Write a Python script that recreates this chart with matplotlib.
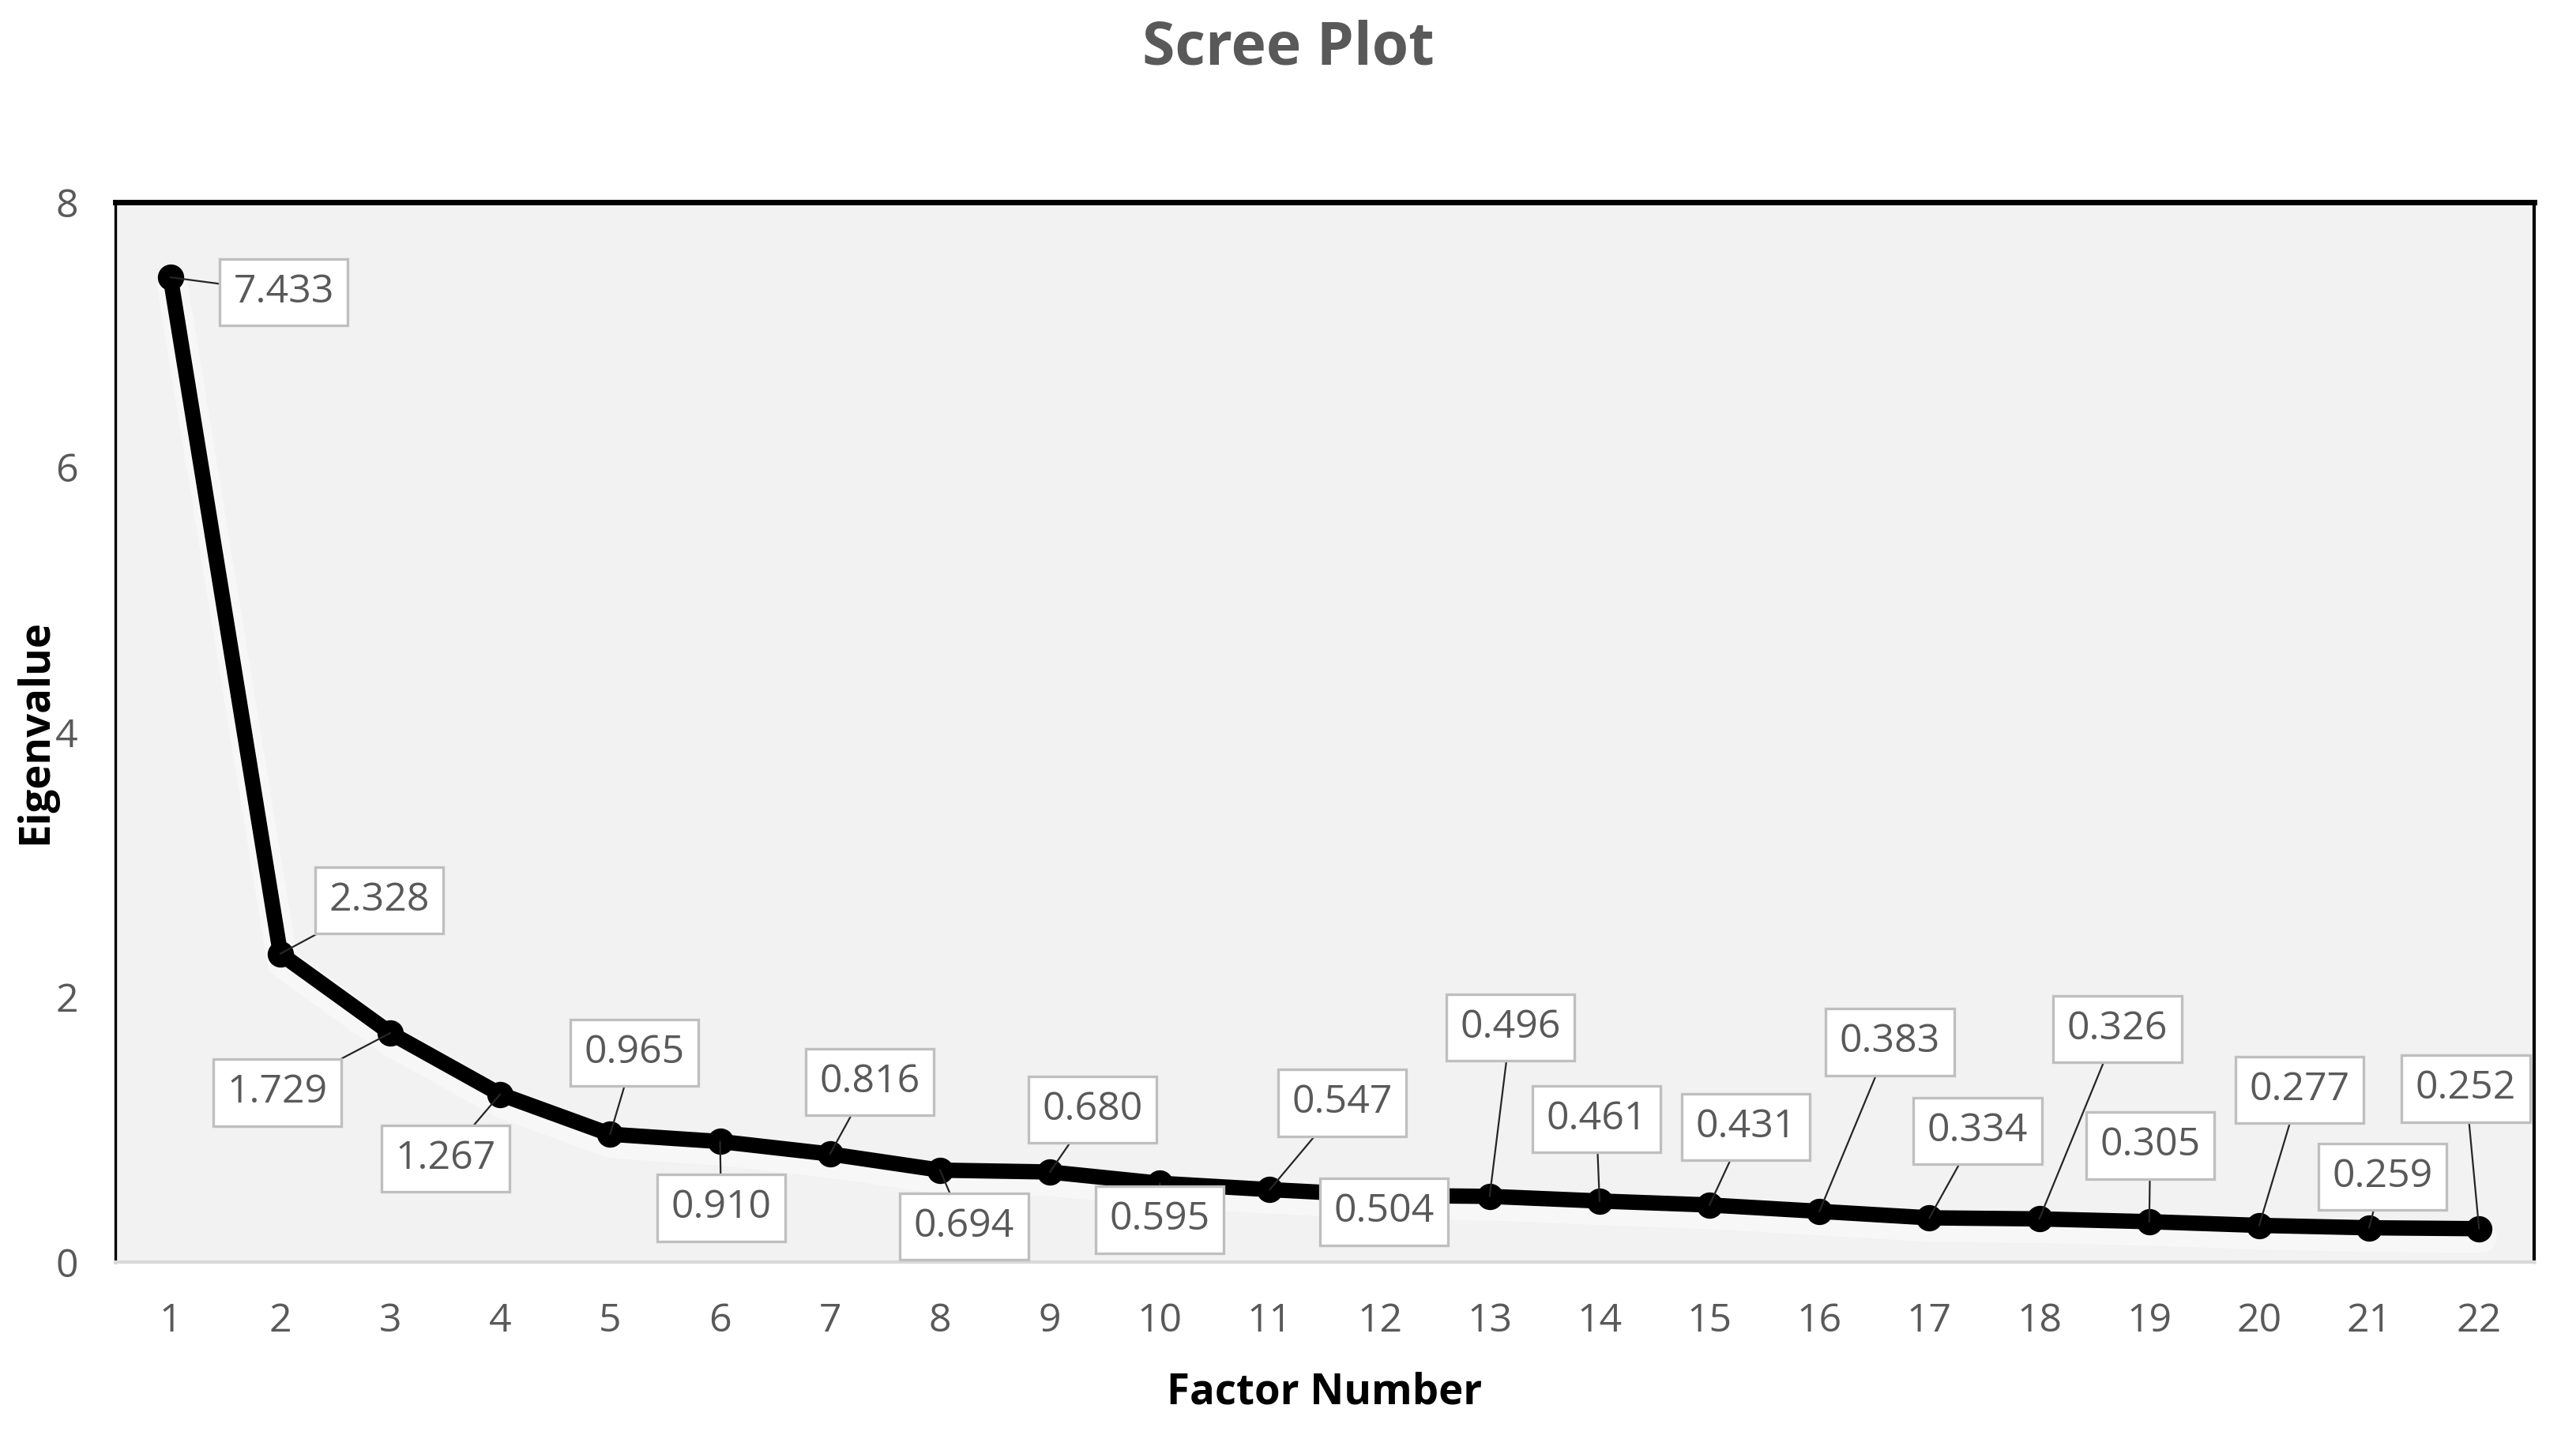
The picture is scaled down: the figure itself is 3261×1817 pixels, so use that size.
import matplotlib.pyplot as plt
import matplotlib.patheffects as pe

# Scree plot data
factors = list(range(1, 23))
eigenvalues = [7.433, 2.328, 1.729, 1.267, 0.965, 0.910, 0.816, 0.694, 0.680, 0.595, 0.547,
               0.504, 0.496, 0.461, 0.431, 0.383, 0.334, 0.326, 0.305, 0.277, 0.259, 0.252]
value_labels = [f"{v:.3f}" for v in eigenvalues]
y_ticks = [0, 2, 4, 6, 8]

# where each data label box sits (x, y in data units)
label_pos = [(2.03, 7.32), (2.90, 2.73), (1.97, 1.28), (3.50, 0.78), (5.22, 1.58), (6.01, 0.41),
             (7.36, 1.36), (8.22, 0.27), (9.39, 1.15), (10.0, 0.32), (11.66, 1.20), (12.04, 0.38),
             (13.19, 1.77), (13.97, 1.08), (15.33, 1.02), (16.64, 1.66), (17.44, 0.99), (18.71, 1.76),
             (19.01, 0.88), (20.37, 1.30), (21.12, 0.645), (21.88, 1.31)]

plt.rcParams['font.family'] = ['Open Sans', 'DejaVu Sans']

fig = plt.figure(figsize=(16.31, 9.085), dpi=200)
ax = fig.add_axes([0.0448, 0.1205, 0.9386, 0.7386])
ax.set_facecolor('#f2f2f2')

# soft white glow under the line
ax.plot(factors, eigenvalues, color='black', lw=7, solid_joinstyle='round',
        solid_capstyle='round', zorder=2,
        path_effects=[pe.SimpleLineShadow(offset=(1, -4), shadow_color='white', alpha=0.45,
                                          linewidth=14),
                      pe.Normal()])
ax.plot(factors, eigenvalues, ls='none', marker='o', markersize=11, color='black', zorder=2.5)

for i, (x, y) in enumerate(zip(factors, eigenvalues)):
    lx, ly = label_pos[i]
    ax.annotate(value_labels[i], xy=(x, y), xytext=(lx, ly), ha='center', va='center',
                fontsize=18, color='#595959', zorder=4,
                bbox=dict(boxstyle='square,pad=0.35', fc='white', ec='#bfbfbf', lw=1.2),
                arrowprops=dict(arrowstyle='-', color='#262626', lw=0.8, shrinkA=0, shrinkB=0))

ax.set_xlim(0.5, 22.5)
ax.set_ylim(0, 8)
ax.set_xticks(factors)
ax.set_yticks(y_ticks)
ax.tick_params(length=0, labelsize=18, labelcolor='#595959')
ax.tick_params(axis='x', pad=18)
ax.tick_params(axis='y', pad=17)

ax.spines['top'].set_linewidth(2.5)
ax.spines['left'].set_linewidth(1.2)
ax.spines['right'].set_linewidth(1.5)
ax.spines['bottom'].set_color('#d9d9d9')
ax.spines['bottom'].set_linewidth(1.5)

ax.set_xlabel("Factor Number", fontsize=19, fontweight='bold', labelpad=14)
fig.text(0.014, 0.49, "Eigenvalue", rotation=90, fontsize=19, fontweight='bold',
         ha='center', va='center')
fig.text(0.5, 0.966, "Scree Plot", fontsize=27, fontweight='bold', color='#595959',
         ha='center', va='center')

fig.savefig("out.png", dpi=200)
